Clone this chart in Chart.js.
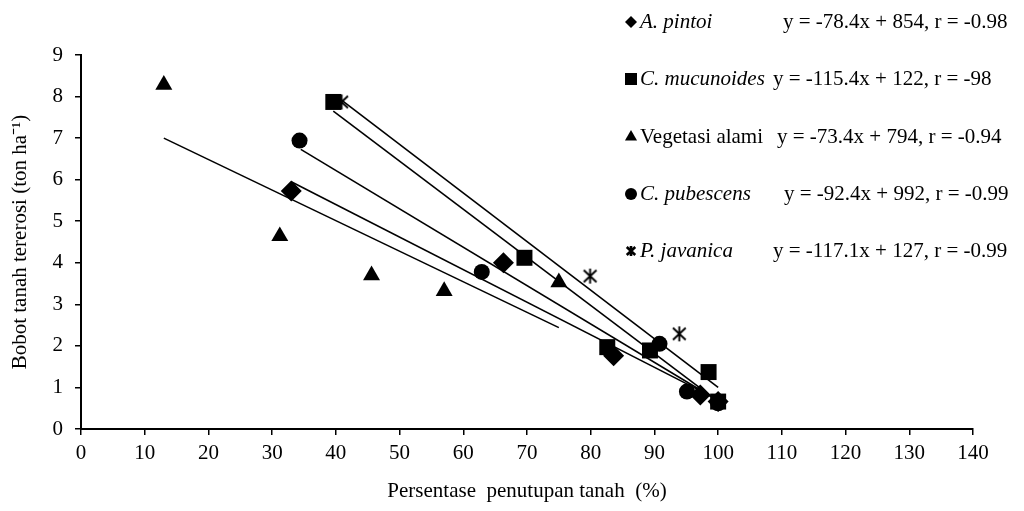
<!DOCTYPE html>
<html>
<head>
<meta charset="utf-8">
<script src="https://cdn.jsdelivr.net/npm/chart.js@4.4.0/dist/chart.umd.min.js"></script>
<style>
  html, body { margin: 0; padding: 0; background: #fff; }
  #wrap { width: 1024px; height: 511px; }
</style>
</head>
<body>
<div id="wrap"><canvas id="erosionChart" width="1024" height="511"></canvas></div>
<script>
// series names + regression text as printed on the figure
const seriesNames = ["A. pintoi", "C. mucunoides", "Vegetasi alami", "C. pubescens", "P. javanica"]
const italicNames = [true, true, false, true, true]
const equations = [
  "y = -78.4x + 854, r = -0.98",
  "y = -115.4x + 122, r = -98",
  "y = -73.4x + 794, r = -0.94",
  "y = -92.4x + 992, r = -0.99",
  "y = -117.1x + 127, r = -0.99",
]

// observed points [ground cover %, eroded soil ton/ha]
const pintoiPts = [[33.0, 5.73], [66.3, 4.0], [83.6, 1.76], [97.2, 0.82], [100, 0.66]]
const mucunoidesPts = [[39.6, 7.87], [69.6, 4.12], [82.6, 1.97], [89.3, 1.89], [98.5, 1.37], [100, 0.66]]
const vegetasiPts = [[13.0, 8.28], [31.2, 4.64], [45.6, 3.70], [57.0, 3.32], [75.0, 3.53]]
const pubescensPts = [[34.3, 6.94], [62.9, 3.78], [90.8, 2.05], [95.1, 0.90], [100, 0.62]]
const javanicaPts = [[40.9, 7.87], [79.9, 3.68], [93.9, 2.29], [100, 0.68]]

// trend line end points as drawn
const pintoiFit = [[33, 5.95], [100, 0.70]]
const mucunoidesFit = [[39.6, 7.65], [100, 0.66]]
const vegetasiFit = [[13, 7.0], [75, 2.44]]
const pubescensFit = [[34.5, 6.73], [100, 0.68]]
const javanicaFit = [[41, 7.9], [100, 1.0]]

// axes
const xMin = 0, xMax = 140, xStep = 10
const yMin = 0, yMax = 9, yStep = 1
const xTitle = "Persentase  penutupan tanah  (%)"
const yTitle = "Bobot tanah tererosi (ton ha\u207B\u00B9)"

const FONT = "'Liberation Serif', 'Times New Roman', serif"
Chart.defaults.font.family = FONT
Chart.defaults.color = "#000"

function makeStar(size, lw) {
  const c = document.createElement("canvas")
  c.width = size
  c.height = size
  const g = c.getContext("2d")
  const m = size / 2
  const r = size / 2 - 1
  g.strokeStyle = "#000"
  g.lineWidth = lw
  g.beginPath()
  g.moveTo(m, m - r); g.lineTo(m, m + r)
  g.moveTo(m - r * 0.85, m - r * 0.8); g.lineTo(m + r * 0.85, m + r * 0.8)
  g.moveTo(m + r * 0.85, m - r * 0.8); g.lineTo(m - r * 0.85, m + r * 0.8)
  g.stroke()
  return c
}

const starBig = makeStar(17, 1.9)
const starSmall = makeStar(12, 2.6)

const pointSeries = [pintoiPts, mucunoidesPts, vegetasiPts, pubescensPts, javanicaPts]
const fitSeries = [pintoiFit, mucunoidesFit, vegetasiFit, pubescensFit, javanicaFit]
const pointStyles = ["rectRot", "rect", "triangle", "circle", starBig]
const pointSizes = [10.5, 11.3, 9.8, 8, 8]
const legendStyles = ["rectRot", "rect", "triangle", "circle", starSmall]
const legendSizes = [6, 8.5, 7, 6, 6]

const toXY = (arr) => arr.map(p => ({ x: p[0], y: p[1] }))

const pointSets = pointSeries.map((pts, i) => ({
  label: seriesNames[i],
  data: toXY(pts),
  pointStyle: pointStyles[i],
  pointRadius: pointSizes[i],
  pointBackgroundColor: "#000",
  pointBorderColor: "#000",
  pointBorderWidth: 0,
  showLine: false,
  order: 1,
}))

const fitSets = fitSeries.map((pts, i) => ({
  label: seriesNames[i] + " fit",
  data: toXY(pts),
  showLine: true,
  pointRadius: 0,
  borderColor: "#000",
  borderWidth: 1.6,
  fill: false,
  order: 2,
}))

// right-hand legend with equations
const legendRows = [22, 79, 137, 194, 251]
const eqX = [783, 773, 777, 784, 773]
const equationLegend = {
  id: "equationLegend",
  afterDraw(chart) {
    const ctx = chart.ctx
    ctx.save()
    ctx.fillStyle = "#000"
    ctx.strokeStyle = "#000"
    ctx.textBaseline = "middle"
    ctx.textAlign = "left"
    seriesNames.forEach((name, i) => {
      const y = legendRows[i]
      Chart.helpers.drawPoint(ctx, { pointStyle: legendStyles[i], radius: legendSizes[i], rotation: 0, borderWidth: 0 }, 631, y)
      ctx.font = (italicNames[i] ? "italic " : "") + "21px " + FONT
      ctx.fillText(name, 640, y)
      ctx.font = "21px " + FONT
      ctx.fillText(equations[i], eqX[i], y)
    })
    ctx.restore()
  },
}

const tickFont = { size: 21, family: FONT }

const config = {
  type: "scatter",
  data: { datasets: [...fitSets, ...pointSets] },
  options: {
    responsive: false,
    animation: false,
    layout: { padding: { top: 55, right: 51, left: 0, bottom: 0 } },
    plugins: {
      legend: { display: false },
      tooltip: { enabled: false },
    },
    scales: {
      x: {
        type: "linear",
        min: xMin,
        max: xMax,
        ticks: { stepSize: xStep, color: "#000", font: tickFont, padding: 6, maxRotation: 0, autoSkip: false },
        grid: { drawOnChartArea: false, drawTicks: true, tickLength: 6, color: "#000", lineWidth: 1.5 },
        border: { display: true, color: "#000", width: 2 },
        title: { display: true, text: xTitle, color: "#000", font: tickFont, padding: { top: 0, bottom: 7 } },
        afterFit(scale) { scale.height = 82 },
      },
      y: {
        type: "linear",
        min: yMin,
        max: yMax,
        ticks: { stepSize: yStep, color: "#000", font: tickFont, padding: 12 },
        grid: { drawOnChartArea: false, drawTicks: true, tickLength: 6, color: "#000", lineWidth: 1.5 },
        border: { display: true, color: "#000", width: 2 },
        title: { display: true, text: yTitle, color: "#000", font: tickFont, padding: { top: 8, bottom: 0 } },
        afterFit(scale) { scale.width = 81 },
      },
    },
  },
  plugins: [equationLegend],
}

document.addEventListener("DOMContentLoaded", () => {
  const ctx = document.getElementById("erosionChart")
  new Chart(ctx, config)
})
</script>
</body>
</html>
